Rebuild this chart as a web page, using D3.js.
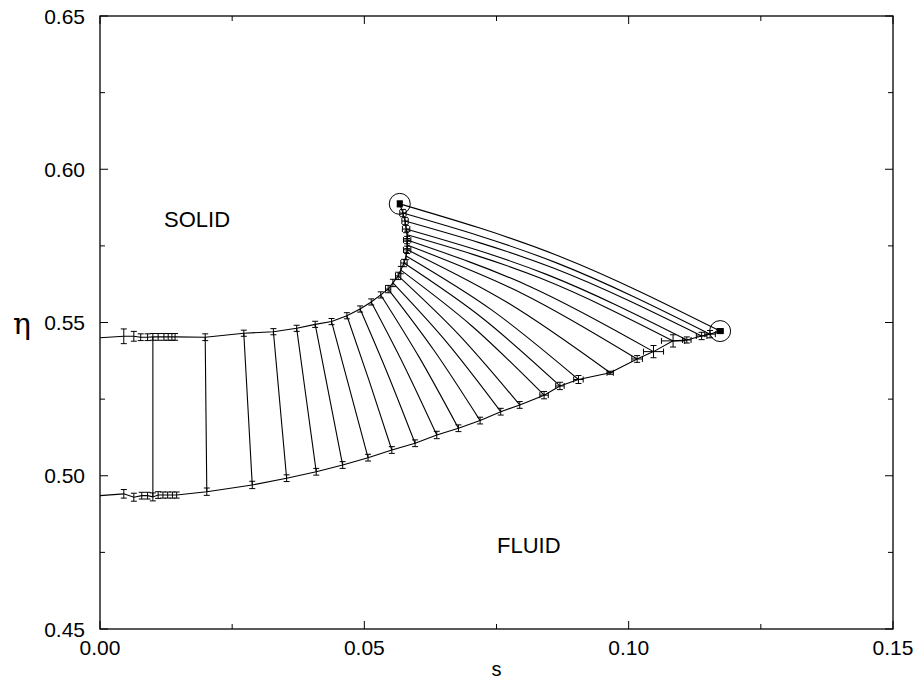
<!DOCTYPE html>
<html><head><meta charset="utf-8">
<script src="https://cdn.jsdelivr.net/npm/d3@7"></script>
<style>body{margin:0;background:#fff}svg text{font-family:"Liberation Sans",Arial,sans-serif;fill:#000}</style>
</head><body><svg id="c" width="917" height="686"></svg>
<script>
// ---- data ----
const xTicks = [0.00, 0.05, 0.10, 0.15];
const yTicks = [0.45, 0.50, 0.55, 0.60, 0.65];
const xMinor = [0.025, 0.075, 0.125];
const yMinor = [0.475, 0.525, 0.575, 0.625];

// small-s clusters (no tie lines)
const solidClusterS   = [0.0045, 0.0064, 0.0077, 0.0090, 0.0110, 0.0121, 0.0129, 0.0136, 0.0142];
const solidClusterEta = [0.5455, 0.5455, 0.5452, 0.5452, 0.5453, 0.5453, 0.5453, 0.5453, 0.5453];
const solidClusterErr = [0.0024, 0.0016, 0.0011, 0.0011, 0.0011, 0.0011, 0.0011, 0.0011, 0.0011];
const fluidClusterS   = [0.0045, 0.0064, 0.0079, 0.0090, 0.0110, 0.0119, 0.0128, 0.0137, 0.0145];
const fluidClusterEta = [0.4941, 0.4930, 0.4935, 0.4935, 0.4937, 0.4937, 0.4937, 0.4937, 0.4937];
const fluidClusterErr = [0.0014, 0.0013, 0.0011, 0.0011, 0.0011, 0.0010, 0.0010, 0.0010, 0.0010];

// tie lines: solid end / fluid end
const solidS   = [0.0100,0.0199,0.0272,0.0328,0.0372,0.0407,0.0438,0.0467,0.0492,0.0513,0.0531,0.0545,0.0554,0.0564,0.0569,0.0575,0.0579,0.0581,0.0581,0.0581,0.0581,0.0579,0.0577,0.0573,0.0567];
const solidEta = [0.5453,0.5452,0.5465,0.5470,0.5481,0.5494,0.5503,0.5522,0.5544,0.5567,0.5590,0.5609,0.5629,0.5652,0.5671,0.5694,0.5717,0.5737,0.5753,0.5769,0.5786,0.5805,0.5831,0.5857,0.5887];
const solidErr = [0.0011,0.0011,0.0010,0.0010,0.0010,0.0010,0.0010,0.0010,0.0010,0.0010,0.0010,0.0012,0.0012,0.0012,0.0012,0.0012,0.0012,0.0012,0.0012,0.0012,0.0012,0.0012,0.0012,0.0012,0.0010];
const solidSErr= [0,0,0,0,0,0,0,0,0,0,0,0.0005,0,0.0005,0,0.0006,0,0.0007,0,0.0007,0,0.0007,0.0006,0.0006,0.0004];
const fluidS   = [0.0100,0.0202,0.0288,0.0353,0.0409,0.0459,0.0507,0.0552,0.0596,0.0637,0.0678,0.0719,0.0758,0.0794,0.0840,0.0870,0.0905,0.0965,0.1016,0.1047,0.1084,0.1110,0.1138,0.1154,0.1173];
const fluidEta = [0.4931,0.4948,0.4970,0.4992,0.5013,0.5035,0.5059,0.5084,0.5106,0.5133,0.5155,0.5180,0.5209,0.5231,0.5263,0.5293,0.5314,0.5336,0.5381,0.5405,0.5440,0.5443,0.5456,0.5462,0.5472];
const fluidErr = [0.0013,0.0012,0.0012,0.0011,0.0011,0.0011,0.0011,0.0011,0.0011,0.0012,0.0011,0.0011,0.0011,0.0011,0.0012,0.0012,0.0013,0.0005,0.0011,0.0020,0.0020,0.0010,0.0012,0.0012,0.0008];
const fluidSErr= [0,0,0,0,0,0,0,0,0,0,0,0,0,0,0.0008,0.0008,0.0009,0.0006,0.0010,0.0019,0.0022,0.0008,0.0010,0.0010,0.0006];
const tieBulge = [0,0,0,0,0,0,0,0.0005,0.0008,0.0010,0.0012,0.0014,0.0016,0.0018,0.0020,0.0022,0.0024,0.0026,0.0028,0.0030,0.0032,0.0033,0.0034,0.0035,0.0036];
const edgeEta = {solid: 0.5450, fluid: 0.4935};

// ---- drawing ----
const W = 917, H = 686;
const L = 100, R = 893, T = 16, B = 629;
const x = d3.scaleLinear().domain([0, 0.15]).range([L, R]);
const y = d3.scaleLinear().domain([0.45, 0.65]).range([B, T]);
const svg = d3.select("#c");
const g = svg.append("g");

// frame
g.append("rect").attr("x", L).attr("y", T).attr("width", R - L).attr("height", B - T)
  .attr("fill", "none").attr("stroke", "#000").attr("stroke-width", 1.3);

// ticks (inward, all sides)
const tk = g.append("g").attr("stroke", "#000").attr("stroke-width", 1);
xTicks.forEach(v => { tk.append("line").attr("x1", x(v)).attr("x2", x(v)).attr("y1", B).attr("y2", B - 8);
                      tk.append("line").attr("x1", x(v)).attr("x2", x(v)).attr("y1", T).attr("y2", T + 8); });
xMinor.forEach(v => { tk.append("line").attr("x1", x(v)).attr("x2", x(v)).attr("y1", B).attr("y2", B - 5);
                      tk.append("line").attr("x1", x(v)).attr("x2", x(v)).attr("y1", T).attr("y2", T + 5); });
yTicks.forEach(v => { tk.append("line").attr("y1", y(v)).attr("y2", y(v)).attr("x1", L).attr("x2", L + 8);
                      tk.append("line").attr("y1", y(v)).attr("y2", y(v)).attr("x1", R).attr("x2", R - 8); });
yMinor.forEach(v => { tk.append("line").attr("y1", y(v)).attr("y2", y(v)).attr("x1", L).attr("x2", L + 5);
                      tk.append("line").attr("y1", y(v)).attr("y2", y(v)).attr("x1", R).attr("x2", R - 5); });

// tick labels
xTicks.forEach(v => g.append("text").attr("x", x(v)).attr("y", 655).attr("text-anchor", "middle")
  .attr("font-size", 21).text(v.toFixed(2)));
yTicks.forEach(v => g.append("text").attr("x", 85).attr("y", y(v) + 7.5).attr("text-anchor", "end")
  .attr("font-size", 21).text(v.toFixed(2)));

// axis titles
g.append("text").attr("x", (L + R) / 2).attr("y", 676).attr("text-anchor", "middle").attr("font-size", 20).text("s");
g.append("text").attr("x", 22).attr("y", 334).attr("text-anchor", "middle").attr("font-size", 30)
  .style("font-family", "'DejaVu Serif', serif").text("η");

// region labels
g.append("text").attr("x", 164).attr("y", 227).attr("font-size", 22).text("SOLID");
g.append("text").attr("x", 497).attr("y", 553).attr("font-size", 22).text("FLUID");

const line = d3.line().x(d => x(d[0])).y(d => y(d[1]));

// boundary curves
const solidPath = [[0, edgeEta.solid]]
  .concat(solidClusterS.map((s, i) => [s, solidClusterEta[i]]))
  .concat([[solidS[0], solidEta[0]]])
  .sort((a, b) => a[0] - b[0])
  .concat(solidS.slice(1).map((s, i) => [s, solidEta[i + 1]]));
const fluidPath = [[0, edgeEta.fluid]]
  .concat(fluidClusterS.map((s, i) => [s, fluidClusterEta[i]]))
  .concat([[fluidS[0], fluidEta[0]]])
  .sort((a, b) => a[0] - b[0])
  .concat(fluidS.slice(1).map((s, i) => [s, fluidEta[i + 1]]));
g.append("path").attr("d", line(solidPath)).attr("fill", "none").attr("stroke", "#000").attr("stroke-width", 1.1);
g.append("path").attr("d", line(fluidPath)).attr("fill", "none").attr("stroke", "#000").attr("stroke-width", 1.1);

// tie lines
const tieLine = d3.line().x(d => x(d[0])).y(d => y(d[1])).curve(d3.curveNatural);
solidS.forEach((s, i) => {
  const pts = [[s, solidEta[i]],
               [(s + fluidS[i]) / 2, (solidEta[i] + fluidEta[i]) / 2 + tieBulge[i]],
               [fluidS[i], fluidEta[i]]];
  g.append("path").attr("d", tieLine(pts)).attr("fill", "none").attr("stroke", "#000").attr("stroke-width", 1.1);
});

// error bars
const eb = g.append("g").attr("stroke", "#000").attr("stroke-width", 1).attr("fill", "none");
function errBar(s, e, de, ds) {
  const cx = x(s), cy = y(e), cap = 3;
  if (de > 0) {
    const y1 = y(e - de), y2 = y(e + de);
    eb.append("line").attr("x1", cx).attr("x2", cx).attr("y1", y1).attr("y2", y2);
    eb.append("line").attr("x1", cx - cap).attr("x2", cx + cap).attr("y1", y1).attr("y2", y1);
    eb.append("line").attr("x1", cx - cap).attr("x2", cx + cap).attr("y1", y2).attr("y2", y2);
  }
  if (ds > 0) {
    const x1 = x(s - ds), x2 = x(s + ds);
    eb.append("line").attr("x1", x1).attr("x2", x2).attr("y1", cy).attr("y2", cy);
    eb.append("line").attr("x1", x1).attr("x2", x1).attr("y1", cy - cap).attr("y2", cy + cap);
    eb.append("line").attr("x1", x2).attr("x2", x2).attr("y1", cy - cap).attr("y2", cy + cap);
  }
}
solidClusterS.forEach((s, i) => errBar(s, solidClusterEta[i], solidClusterErr[i], 0));
fluidClusterS.forEach((s, i) => errBar(s, fluidClusterEta[i], fluidClusterErr[i], 0));
solidS.forEach((s, i) => errBar(s, solidEta[i], solidErr[i], solidSErr[i]));
fluidS.forEach((s, i) => errBar(s, fluidEta[i], fluidErr[i], fluidSErr[i]));

// critical points (circled)
const last = solidS.length - 1;
[[solidS[last], solidEta[last]], [fluidS[last], fluidEta[last]]].forEach(p => {
  g.append("circle").attr("cx", x(p[0])).attr("cy", y(p[1])).attr("r", 10.5)
    .attr("fill", "none").attr("stroke", "#000").attr("stroke-width", 1);
  g.append("rect").attr("x", x(p[0]) - 3).attr("y", y(p[1]) - 3).attr("width", 6).attr("height", 6).attr("fill", "#000");
});
</script></body></html>
